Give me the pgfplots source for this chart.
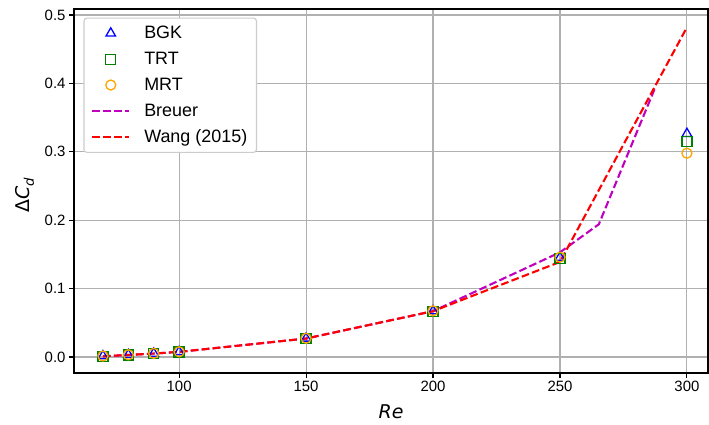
\documentclass[border=0pt]{standalone}
\usepackage{pgfplots}
\pgfplotsset{compat=1.18}
\usepackage{fontspec}
\setmainfont{Liberation Sans}
\newfontfamily\dejavu{DejaVu Sans}
\definecolor{mplgreen}{RGB}{0,128,0}
\definecolor{mplorange}{RGB}{255,165,0}
\definecolor{breuercol}{rgb}{0.75,0,0.75}
\definecolor{mplgrid}{RGB}{176,176,176}
\definecolor{mplblue}{RGB}{0,0,255}
\definecolor{mplred}{RGB}{255,0,0}
\definecolor{legedge}{RGB}{204,204,204}
\pgfplotsset{
  markleg/.style={legend image code/.code={\path[draw=none,fill=none] (0bp,0bp) (50bp,0bp);\draw[##1] plot coordinates {(18.5bp,0bp)};}},
  lineleg/.style={legend image code/.code={\path[draw=none,fill=none] (0bp,0bp) (50bp,0bp);\draw[##1] (0bp,0bp) -- (37bp,0bp);}},
}
\begin{document}
\begin{tikzpicture}
\useasboundingbox (-74bp,-52bp) rectangle (635bp,373bp);
\begin{axis}[
  scale only axis, width=634bp, height=364bp,
  xmin=58.6, xmax=308.3, ymin=-0.0234, ymax=0.5088,
  xtick={100,150,200,250,300}, ytick={0,0.1,0.2,0.3,0.4,0.5},
  grid=major, grid style={color=mplgrid, line width=1.1bp},
  axis line style={line width=1.1bp, black},
  tick align=outside, major tick length=5bp,
  tick style={line width=1.1bp, black},
  xtick pos=bottom, ytick pos=left,
  /pgf/number format/assume math mode=true,
  yticklabel style={/pgf/number format/.cd, fixed, fixed zerofill, precision=1},
  ticklabel style={font=\fontsize{15}{18}\selectfont},
  xlabel={{\dejavu\itshape Re}},
  ylabel={{\dejavu Δ\textit{C}\textsubscript{\textit{d}}}},
  xlabel style={font=\fontsize{19}{22}\selectfont, at={(axis description cs:0.5,-0.107)}, anchor=center},
  ylabel style={font=\fontsize{19}{22}\selectfont, at={(axis description cs:-0.0773,0.489)}, anchor=center},
  legend style={name=leg, at={(0.0158,0.975)}, anchor=north west, font=\fontsize{18}{20}\selectfont,
     draw=none, fill=white,
     row sep=8bp, inner xsep=7bp, inner ysep=6bp, nodes={inner xsep=2bp}},
  legend cell align=left,
]
\addplot[only marks, mark=triangle, mark size=5.5bp, mplblue, mark options={line width=1.3bp}, markleg] coordinates {
(70,0.0015)(80,0.0032)(90,0.0052)(100,0.0075)(150,0.0272)(200,0.0672)(250,0.1455)(300,0.3265)};
\addlegendentry{BGK}
\addplot[only marks, mark=square, mark size=5bp, mplgreen, mark options={line width=1.3bp}, markleg] coordinates {
(70,0.0012)(80,0.0030)(90,0.0050)(100,0.0073)(150,0.0270)(200,0.0668)(250,0.1440)(300,0.3155)};
\addlegendentry{TRT}
\addplot[only marks, mark=o, mark size=5bp, mplorange, mark options={line width=1.3bp}, markleg] coordinates {
(70,0.0015)(80,0.0033)(90,0.0053)(100,0.0076)(150,0.0274)(200,0.0675)(250,0.1460)(300,0.2980)};
\addlegendentry{MRT}
\addplot[color=breuercol, line width=2.1bp, dash pattern=on 7.7bp off 3.3bp, lineleg] coordinates {
(70,0.0010)(80,0.0030)(90,0.0050)(100,0.0075)(150,0.0270)(200,0.0670)(250,0.1530)(265.3,0.1940)(287.4,0.3930)};
\addlegendentry{Breuer}
\addplot[color=mplred, line width=2.1bp, dash pattern=on 7.7bp off 3.3bp, lineleg] coordinates {
(70,0.0010)(80,0.0030)(90,0.0050)(100,0.0075)(150,0.0270)(200,0.0670)(250,0.1390)(300,0.4820)};
\addlegendentry{Wang (2015)}
\end{axis}
\draw[legedge, line width=1.1bp, rounded corners=3bp] (leg.north west) rectangle (leg.south east);
\end{tikzpicture}
\end{document}
